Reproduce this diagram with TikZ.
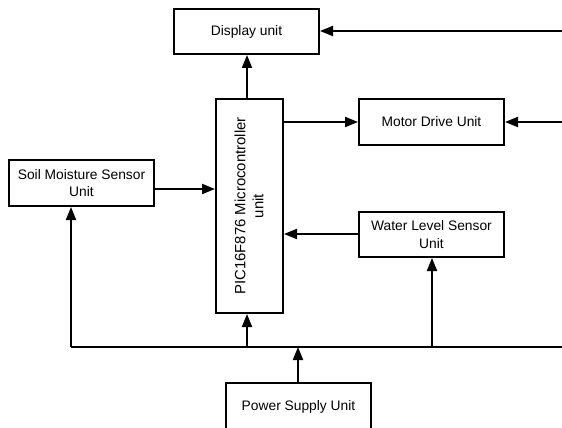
\documentclass[tikz,border=0pt]{standalone}
\usepackage{fontspec}
\setmainfont{Liberation Sans}
\usetikzlibrary{arrows.meta}
\begin{document}
\begin{tikzpicture}[x=1pt,y=-1pt,
  blk/.style={draw, line width=2pt, minimum width=145pt, minimum height=45pt, inner sep=0pt, align=center, font=\fontsize{13.8}{17.4}\selectfont},
  conn/.style={line width=2pt, -{Triangle[length=13pt,width=10pt]}},
  wire/.style={line width=2pt}]
\clip (0,0) rectangle (562,428);
\fill[white] (0,0) rectangle (562,428);
\node[blk] (disp) at (246.5,31.5) {Display unit};
\node[blk, minimum width=67pt, minimum height=214pt] (mcu) at (249.5,206) {};
\node[rotate=90, align=center, inner sep=0pt, font=\fontsize{14.9}{18}\selectfont] (mcutxt) at (249,206) {PIC16F876 Microcontroller\\unit};
\node[blk, minimum height=46pt] (motor) at (431.5,122) {Motor Drive Unit};
\node[blk, minimum height=46pt] (soil) at (81.5,183) {Soil Moisture Sensor\\Unit};
\node[blk] (water) at (431.5,234.5) {Water Level Sensor\\Unit};
\node[blk, minimum height=48pt] (power) at (298.5,407) {Power Supply Unit};
\coordinate (rd) at (562,31);
\coordinate (rm) at (562,122);
\coordinate (busL) at (71,347);
\coordinate (busR) at (562,347);
\coordinate (bP) at (298,347);
\coordinate (bM) at (247,347);
\coordinate (bW) at (432,347);
\draw[wire] (busL) -- (busR);
\draw[conn] (rd) -- (disp.east |- rd);
\draw[conn] (rm) -- (motor.east);
\draw[conn] (mcu.north -| bM) -- (disp.south -| bM);
\draw[conn] (mcu.east |- rm) -- (motor.west);
\draw[conn] (soil.east |- 0,189) -- (mcu.west |- 0,189);
\draw[conn] (water.west |- 0,234) -- (mcu.east |- 0,234);
\draw[conn] (busL) -- (soil.south -| busL);
\draw[conn] (bM) -- (mcu.south -| bM);
\draw[conn] (bW) -- (water.south -| bW);
\draw[conn] (power.north -| bP) -- (bP);
\end{tikzpicture}
\end{document}
